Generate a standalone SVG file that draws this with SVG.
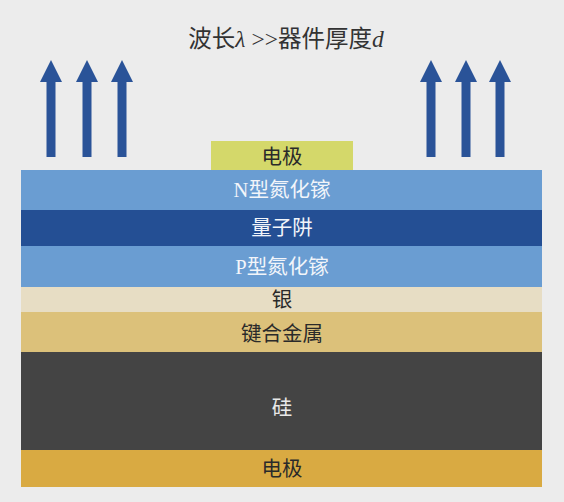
<svg xmlns="http://www.w3.org/2000/svg" width="564" height="502" viewBox="0 0 564 502">
<style>
.t{font-family:"Liberation Serif","Noto Sans CJK SC",serif;font-size:20.5px;text-anchor:middle}
.w{fill:#f2f5fa}
.d{fill:#2a2a2a}
.arr{fill:#2a5398}
</style>
<defs>
<path id="ar" d="M-4.5,157 L-4.5,82 L-11,82 L0,60 L11,82 L4.5,82 L4.5,157 Z"/>
</defs>
<rect width="564" height="502" fill="#ececec"/>
<g id="title">
<text x="286" y="47" font-family="'Liberation Serif','Noto Sans CJK SC',serif" font-size="23.5" text-anchor="middle" fill="#333">波长<tspan font-style="italic">λ</tspan> &gt;&gt;器件厚度<tspan font-style="italic">d</tspan></text>
</g>
<g id="arrows" class="arr">
<use href="#ar" x="51"/>
<use href="#ar" x="87"/>
<use href="#ar" x="122"/>
<use href="#ar" x="431"/>
<use href="#ar" x="466"/>
<use href="#ar" x="500"/>
</g>
<g id="top-electrode">
<rect x="211" y="141" width="142" height="30" fill="#d4d86a"/>
<text class="t d" x="282" y="164">电极</text>
</g>
<g id="n-gan">
<rect x="21" y="170" width="521" height="40" fill="#6a9dd2"/>
<text class="t w" x="282" y="197">N型氮化镓</text>
</g>
<g id="qw">
<rect x="21" y="210" width="521" height="36" fill="#244f94"/>
<text class="t w" x="282" y="235">量子阱</text>
</g>
<g id="p-gan">
<rect x="21" y="246" width="521" height="41" fill="#6a9dd2"/>
<text class="t w" x="282" y="274">P型氮化镓</text>
</g>
<g id="silver">
<rect x="21" y="287" width="521" height="25" fill="#e7ddc4"/>
<text class="t d" x="282" y="307">银</text>
</g>
<g id="bond">
<rect x="21" y="312" width="521" height="40" fill="#dcc17a"/>
<text class="t d" x="282" y="341">键合金属</text>
</g>
<g id="si">
<rect x="21" y="352" width="521" height="98" fill="#444444"/>
<text class="t" fill="#e8e8e8" x="282" y="415">硅</text>
</g>
<g id="bottom-electrode">
<rect x="21" y="450" width="521" height="37" fill="#d9aa42"/>
<text class="t d" x="282" y="476">电极</text>
</g>
</svg>
